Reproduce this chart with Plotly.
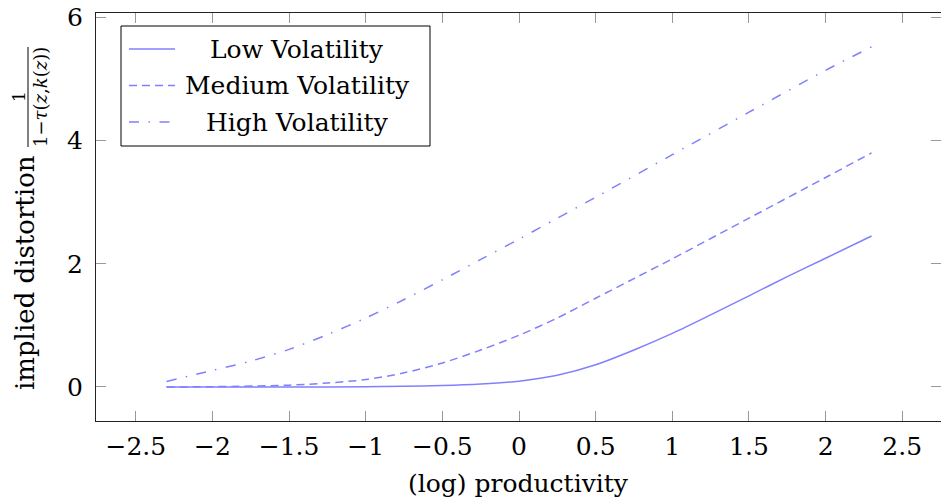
import plotly.graph_objects as go

# ---- data ----
x_low = [-2.3, -2.0, -1.5, -1.0, -0.75, -0.5, -0.25, 0.0, 0.25, 0.5, 0.75, 1.0, 1.25, 1.5, 1.75, 2.0, 2.3]
y_low = [0.0, 0.0, 0.0, 0.005, 0.012, 0.025, 0.05, 0.095, 0.19, 0.36, 0.60, 0.87, 1.17, 1.48, 1.79, 2.09, 2.45]

x_med = [-2.3, -2.0, -1.5, -1.25, -1.0, -0.75, -0.5, -0.25, 0.0, 0.25, 0.5, 0.75, 1.0, 1.5, 2.0, 2.3]
y_med = [0.0, 0.005, 0.03, 0.065, 0.12, 0.23, 0.39, 0.60, 0.84, 1.12, 1.44, 1.76, 2.08, 2.74, 3.40, 3.80]

x_high = [-2.3, -2.0, -1.75, -1.5, -1.25, -1.0, -0.75, -0.5, -0.25, 0.0, 0.25, 0.5, 1.0, 1.5, 2.0, 2.3]
y_high = [0.09, 0.27, 0.42, 0.61, 0.85, 1.12, 1.42, 1.74, 2.07, 2.40, 2.74, 3.08, 3.77, 4.46, 5.14, 5.52]

series_names = ["Low Volatility", "Medium Volatility", "High Volatility"]
x_tick_vals = [-2.5, -2, -1.5, -1, -0.5, 0, 0.5, 1, 1.5, 2, 2.5]
x_tick_text = ["\u22122.5", "\u22122", "\u22121.5", "\u22121", "\u22120.5", "0", "0.5", "1", "1.5", "2", "2.5"]
y_tick_vals = [0, 2, 4, 6]
y_tick_text = ["0", "2", "4", "6"]

# ---- styles ----
FONT = "DejaVu Serif"
FS = 25
LINE_COLOR = "rgb(128,128,255)"
DASHES = ["solid", "8px,5px", "10px,9.5px,1.5px,9.5px"]
W, H = 941, 502
L, R, T, B = 96, 0, 13, 81
PW, PH = W - L - R, H - T - B


def px(xp):
    return (xp - L) / PW


def py(yp):
    return (T + PH - yp) / PH


fig = go.Figure()
for xs, ys, name, dash in zip([x_low, x_med, x_high], [y_low, y_med, y_high], series_names, DASHES):
    fig.add_trace(go.Scatter(
        x=xs, y=ys, mode="lines", name=name, showlegend=False,
        line=dict(color=LINE_COLOR, width=1.5, dash=dash, shape="spline", smoothing=0.8),
    ))

axis_common = dict(
    showgrid=False, zeroline=False, showline=True, linecolor="#222", linewidth=1,
    mirror="ticks", ticks="inside", ticklen=10, tickwidth=1.2, tickcolor="#999",
    tickfont=dict(family=FONT, size=FS, color="black"),
)
fig.update_xaxes(range=[-2.76, 2.753], tickvals=x_tick_vals, ticktext=x_tick_text,
                 ticklabelstandoff=3, **axis_common)
fig.update_yaxes(range=[-0.552, 6.07], tickvals=y_tick_vals, ticktext=y_tick_text,
                 ticklabelstandoff=7, **axis_common)

# ---- custom legend (pgfplots style, centred text) ----
shapes = [dict(type="rect", xref="paper", yref="paper", x0=px(121), x1=px(430), y0=py(146), y1=py(26),
               line=dict(color="black", width=1), fillcolor="white", layer="above")]
legend_y = [49, 85.5, 122]
annotations = []
for name, dash, ly in zip(series_names, DASHES, legend_y):
    shapes.append(dict(type="line", xref="paper", yref="paper", x0=px(129), x1=px(175), y0=py(ly), y1=py(ly),
                       line=dict(color=LINE_COLOR, width=1.5, dash=dash), layer="above"))
    annotations.append(dict(text=name, xref="paper", yref="paper", x=px(297), y=py(ly), xanchor="center",
                            yanchor="middle", showarrow=False, font=dict(family=FONT, size=FS, color="black")))

# axis titles
annotations.append(dict(text="(log) productivity", xref="paper", yref="paper", x=px(518), y=py(484),
                        xanchor="center", yanchor="middle", showarrow=False,
                        font=dict(family=FONT, size=FS, color="black")))
annotations.append(dict(text="implied distortion", xref="paper", yref="paper", x=px(25), y=py(273),
                        xanchor="center", yanchor="middle", textangle=-90, showarrow=False,
                        font=dict(family=FONT, size=26, color="black")))
annotations.append(dict(text="1", xref="paper", yref="paper", x=px(19), y=py(97),
                        xanchor="center", yanchor="middle", textangle=-90, showarrow=False,
                        font=dict(family=FONT, size=17, color="black")))
annotations.append(dict(text="1\u2212<i>\u03c4</i>(<i>z</i>,<i>k</i>(<i>z</i>))", xref="paper", yref="paper",
                        x=px(40), y=py(97), xanchor="center", yanchor="middle", textangle=-90, showarrow=False,
                        font=dict(family=FONT, size=18, color="black")))
shapes.append(dict(type="line", xref="paper", yref="paper", x0=px(28), x1=px(28), y0=py(147), y1=py(47),
                   line=dict(color="black", width=1)))

fig.update_layout(
    width=W, height=H, margin=dict(l=L, r=R, t=T, b=B),
    paper_bgcolor="white", plot_bgcolor="white",
    shapes=shapes, annotations=annotations, showlegend=False,
)
fig.write_html("out.html")
